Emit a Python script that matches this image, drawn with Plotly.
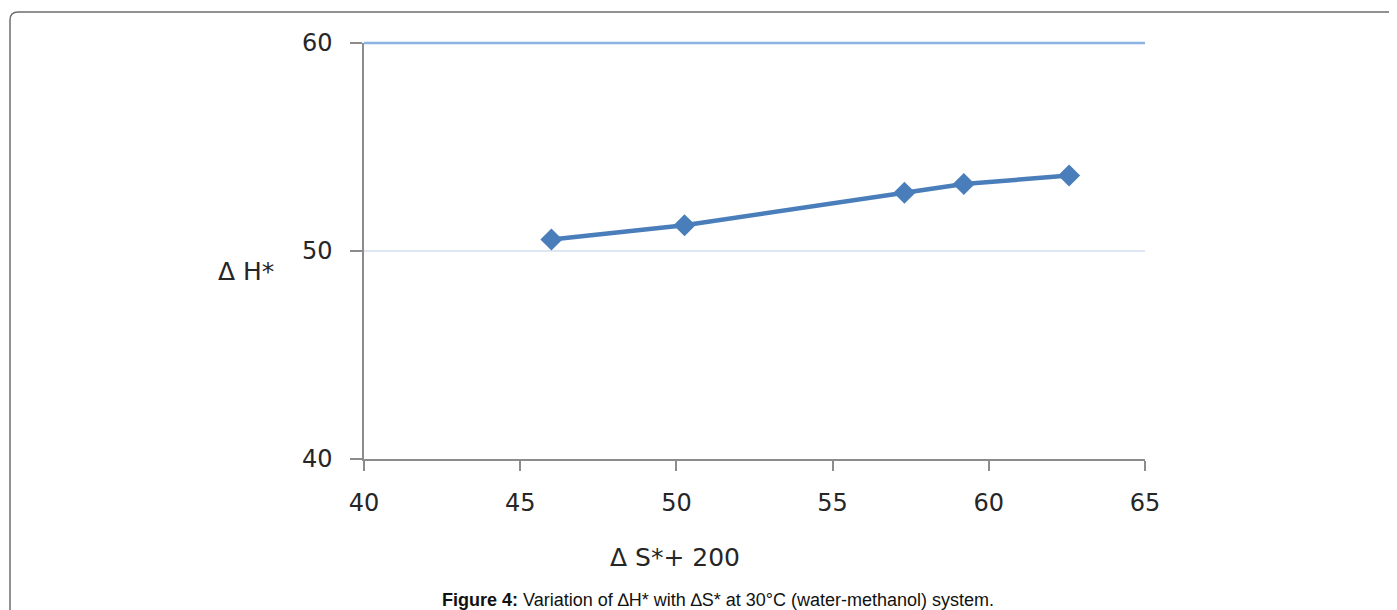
import plotly.graph_objects as go

x_vals = [46.0, 50.26, 57.3, 59.2, 62.57]
y_vals = [50.55, 51.24, 52.8, 53.22, 53.63]
x_ticks = [40, 45, 50, 55, 60, 65]
y_ticks = [40, 50, 60]

W, H = 1397, 610
OFF = 8  # page body margin
L, R, T, B = 364, 1145, 43, 459  # plot area in page pixels

def px(xp):
    return (xp - L) / (R - L)

def py(yp):
    return (B - yp) / (B - T)

fig = go.Figure()
fig.add_trace(go.Scatter(
    x=x_vals, y=y_vals, mode="lines+markers",
    line=dict(color="#4a7ebb", width=4.5),
    marker=dict(symbol="diamond", size=17, color="#4a7ebb"),
    showlegend=False,
))

tickfont = dict(family="DejaVu Sans", size=24, color="#262626")
fig.update_layout(
    width=W, height=H,
    margin=dict(l=L - OFF, r=W - (R - OFF), t=T - OFF, b=H - (B - OFF), pad=0),
    paper_bgcolor="white", plot_bgcolor="white",
    xaxis=dict(range=[40, 65], tickvals=x_ticks, showgrid=False, zeroline=False,
               showline=True, linecolor="#8c8c8c", linewidth=1.5,
               ticks="outside", ticklen=10, tickcolor="#8c8c8c", tickwidth=1.5,
               tickfont=tickfont, ticklabelstandoff=11),
    yaxis=dict(range=[40, 60], tickvals=y_ticks, showgrid=True, gridcolor="#dde6f2",
               gridwidth=1.5, zeroline=False,
               showline=True, linecolor="#8c8c8c", linewidth=1.5,
               ticks="outside", ticklen=12, tickcolor="#8c8c8c", tickwidth=1.5,
               tickfont=tickfont, ticklabelstandoff=13),
)

# top gridline (blue), drawn unclipped at the top of the plot area
fig.add_shape(type="line", xref="paper", yref="paper", x0=0, x1=1, y0=1, y1=1,
              line=dict(color="#8db3e2", width=2.5), layer="above")

# frame with rounded top-left corner
x0, y0 = px(10), py(12)
x1, y1 = px(1420), py(640)
rx = 8 / (R - L)
ry = 8 / (B - T)
path = (f"M {x0},{y1} L {x0},{y0 - ry} Q {x0},{y0} {x0 + rx},{y0} L {x1},{y0}")
fig.add_shape(type="path", xref="paper", yref="paper", path=path,
              line=dict(color="#6e6e6e", width=1.5))

ann = dict(xref="paper", yref="paper", showarrow=False, xanchor="center", yanchor="middle")
fig.add_annotation(text="Δ H*", x=px(246), y=py(271),
                   font=dict(family="DejaVu Sans", size=25, color="#262626"), **ann)
fig.add_annotation(text="Δ S*+ 200", x=px(675), y=py(557),
                   font=dict(family="DejaVu Sans", size=25, color="#262626"), **ann)
fig.add_annotation(text="<b>Figure 4:</b> Variation of ∆H* with ∆S* at 30°C (water-methanol) system.",
                   x=px(718), y=py(600),
                   font=dict(family="Liberation Sans", size=18, color="#111111"), **ann)

fig.write_html("out.html")
